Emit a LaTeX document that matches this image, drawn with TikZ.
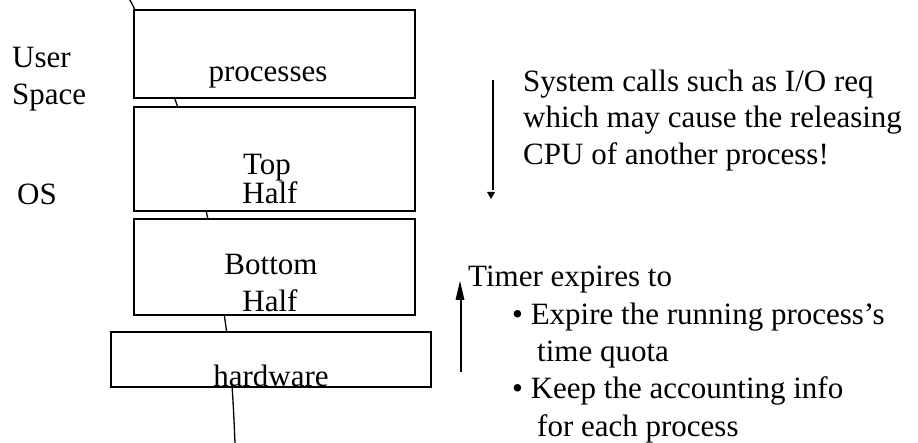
\documentclass[tikz,border=0pt]{standalone}
\usepackage{fontspec}
\setmainfont{Liberation Serif}
\begin{document}
\begin{tikzpicture}[x=1pt,y=-1pt,
  layer/.style={draw, line width=1.7pt, fill=white, inner sep=0pt, outer sep=0pt, anchor=north west},
  lbl/.style={anchor=base, inner sep=0pt, font=\fontsize{31}{36.5}\selectfont},
  lblw/.style={anchor=base west, inner sep=0pt, font=\fontsize{31}{36.5}\selectfont},
  wire/.style={line width=1.3pt},
  shaft/.style={line width=1.6pt}]
\useasboundingbox (0,0) rectangle (918,443);
% line behind the layers
\coordinate (w0) at (129,0);
\coordinate (w1) at (135,10);
\coordinate (w2) at (176,102);
\coordinate (w3) at (207,215);
\coordinate (w4) at (225,320);
\coordinate (w5) at (232,386);
\coordinate (w6) at (235,443);
\draw[wire] plot[smooth] coordinates {(w0) (w1) (w2) (w3) (w4) (w5) (w6)};
% layers
\node[layer, minimum width=281pt, minimum height=88pt] (proc) at (134,10) {};
\node[layer, minimum width=281pt, minimum height=104pt] (top) at (134,107) {};
\node[layer, minimum width=281pt, minimum height=96pt] (bot) at (134,219) {};
\node[layer, minimum width=320pt, minimum height=55pt] (hw) at (111,332) {};
% layer texts
\node[lbl] (tproc) at (268,82) {processes};
\node[lbl] (ttop1) at (267,175) {Top};
\node[lbl] (ttop2) at (270,204) {Half};
\node[lbl] (tbot1) at (271,275) {Bottom};
\node[lbl] (tbot2) at (270,312) {Half};
\node[lbl] (thw) at (271,386) {hardware};
% left labels
\node[lblw] (us1) at (12,68) {User};
\node[lblw] (us2) at (12,105) {Space};
\node[lblw] (os) at (17,205) {OS};
% right texts
\node[lblw] (s1) at (523,92) {System calls such as I/O req};
\node[lblw] (s2) at (523,128) {which may cause the releasing};
\node[lblw] (s3) at (523,165) {CPU of another process!};
\node[lblw] (t0) at (468,287) {Timer expires to};
\node[lblw] (t1) at (512,325) {• Expire the running process’s};
\node[lblw] (t2) at (537,362) {time quota};
\node[lblw] (t3) at (512,399) {• Keep the accounting info};
\node[lblw] (t4) at (537,436) {for each process};
% arrows
\coordinate (d0) at (493,80);
\coordinate (d1) at (493,190);
\draw[shaft] (d0) -- (d1);
\fill (487,192) -- (495,192) -- (491,199) -- cycle;
\coordinate (u0) at (461,372);
\coordinate (u1) at (461,296);
\draw[shaft] (u0) -- (u1);
\fill (460,281) -- (464.5,300) -- (455.5,300) -- cycle;
\end{tikzpicture}
\end{document}
